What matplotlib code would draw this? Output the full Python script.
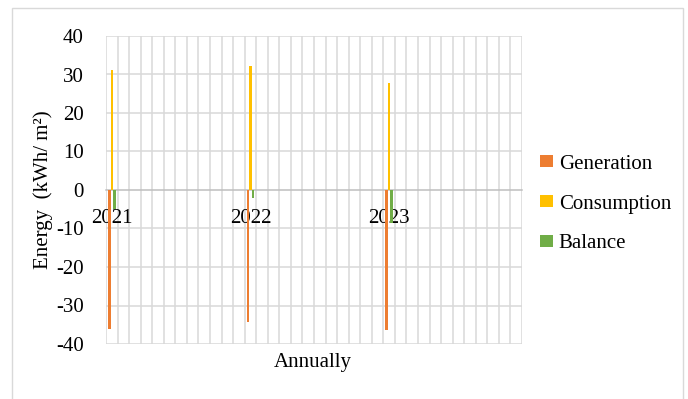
import matplotlib
matplotlib.use("Agg")
import matplotlib.pyplot as plt
from matplotlib.patches import Rectangle
import numpy as np

plt.rcParams['font.family'] = ['Liberation Serif', 'DejaVu Serif']
plt.rcParams['axes.unicode_minus'] = False

# Annual values (kWh/m²), each shown in the first month slot of its year
years = ["2021", "2022", "2023"]
generation = [-36.1, -34.2, -36.4]
consumption = [31.2, 32.1, 27.9]
balance = [-4.9, -2.1, -8.5]
months_per_year = 12

series_names = ["Generation", "Consumption", "Balance"]
colors = ["#ED7D31", "#FFC000", "#70AD47"]

n_cat = len(years) * months_per_year
cat_labels = []
for y in years:
    cat_labels += [y] + [""] * (months_per_year - 1)

def expand(vals):
    arr = np.full(n_cat, np.nan)
    for i, v in enumerate(vals):
        arr[i * months_per_year] = v
    return arr

FS = 15
W, H = 688, 399
fig = plt.figure(figsize=(W / 100, H / 100), dpi=100)
fig.patch.set_facecolor("white")

# outer chart border
fig.patches.append(Rectangle((12 / W, -0.01), (683 - 12) / W, (H - 8) / H + 0.01,
                             transform=fig.transFigure, fill=False,
                             edgecolor="#D9D9D9", linewidth=1.0))

left, right, top, bottom = 106, 522, 36, 344
ax = fig.add_axes([left / W, 1 - bottom / H, (right - left) / W, (bottom - top) / H])

x = np.arange(n_cat)
width = 0.22
offsets = [-width, 0, width]
for vals, name, col, off in zip([generation, consumption, balance], series_names, colors, offsets):
    ax.bar(x + off, expand(vals), width=width, color=col, label=name, zorder=3)

ax.set_xlim(-0.5, n_cat - 0.5)
ax.set_ylim(-40, 40)
ax.set_yticks(np.arange(-40, 41, 10))

# horizontal gridlines
for yv in np.arange(-40, 41, 10):
    if yv != 0:
        ax.axhline(yv, color="#D9D9D9", linewidth=1.1, zorder=1)
# vertical gridlines on category boundaries
for xv in np.arange(-0.5, n_cat, 1.0):
    ax.axvline(xv, color="#D9D9D9", linewidth=1.1, zorder=1)

for s in ["top", "right", "left"]:
    ax.spines[s].set_visible(False)
ax.spines["bottom"].set_position(("data", 0))
ax.spines["bottom"].set_color("#BFBFBF")
ax.spines["bottom"].set_linewidth(1.1)
ax.spines["bottom"].set_zorder(2)

ax.set_xticks(x)
ax.set_xticklabels(cat_labels, fontsize=FS)
ax.tick_params(axis="x", length=0, pad=14)
ax.tick_params(axis="y", length=0, pad=16, labelsize=FS)
for lab in ax.get_xticklabels():
    lab.set_zorder(4)

fig.text(43 / W, 1 - 190 / H, "Energy  (kWh/ m²)", rotation=90,
         ha="center", va="center", fontsize=FS)

fig.text(313 / W, 1 - 362 / H, "Annually", ha="center", va="center", fontsize=FS)

fig.legend(loc="center left", bbox_to_anchor=(540 / W, 1 - 204 / H),
           frameon=False, fontsize=FS, handlelength=0.6, handleheight=0.5,
           handletextpad=0.3, labelspacing=1.0, borderaxespad=0, borderpad=0)

fig.savefig("out.png", dpi=100, facecolor="white")
